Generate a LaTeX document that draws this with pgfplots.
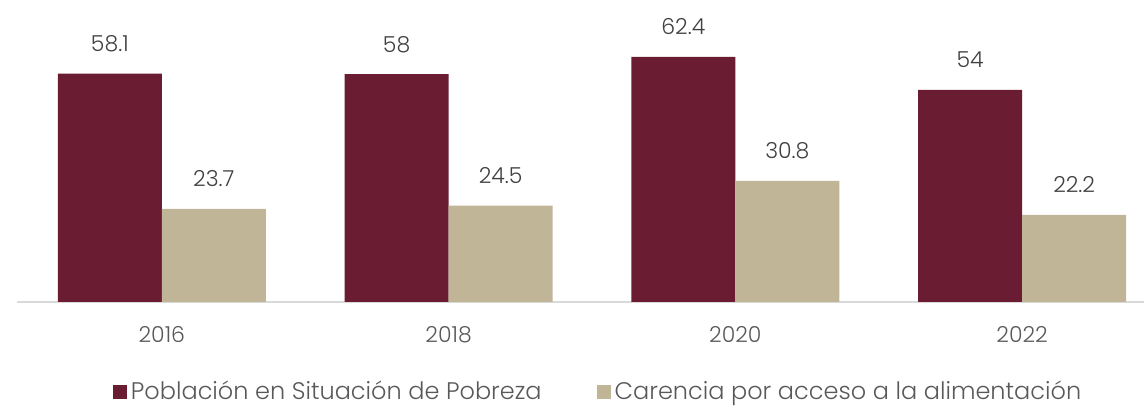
\documentclass[border=0pt]{standalone}
\usepackage{fontspec}
\setmainfont{Poppins Light}
\usepackage{pgfplots}
\pgfplotsset{compat=1.18}
\definecolor{guinda}{HTML}{691C32}
\definecolor{arena}{HTML}{C1B598}
\definecolor{txtgray}{HTML}{595959}
\definecolor{lblgray}{HTML}{404040}
\definecolor{axgray}{HTML}{D9D9D9}
\begin{document}
\begin{tikzpicture}
% 1 px of the reference = 0.5pt
\useasboundingbox (-8.5pt,-52pt) rectangle (563.5pt,151pt);
\begin{axis}[
  at={(0,0)}, anchor=south west,
  scale only axis,
  width=563.5pt, height=150.5pt,
  xmin=-0.505, xmax=3.425,
  ymin=0, ymax=76.6,
  ybar=0pt, bar width=52pt,
  axis x line*=bottom,
  axis y line=none,
  x axis line style={draw=axgray, line width=0.75pt},
  xtick={0,1,2,3},
  xticklabels={2016,2018,2020,2022},
  major tick length=0pt,
  xticklabel style={font=\fontsize{11}{13}\selectfont, text=txtgray, yshift=-8.5pt},
  /pgf/number format/assume math mode=true,
  nodes near coords,
  nodes near coords style={anchor=base, yshift=11pt, inner sep=0pt,
    font=\fontsize{11}{13}\selectfont, text=lblgray},
  legend columns=2,
  legend style={at={(0.5165,-0.299)}, anchor=center, draw=none, fill=none,
    font=\fontsize{12}{14}\selectfont, text=txtgray,
    /tikz/every even column/.append style={column sep=25.5pt}},
  legend image code/.code={\fill[#1] (0pt,-3.5pt) rectangle (7pt,3.5pt);},
  clip=false,
]
\addplot[fill=guinda, draw=none, bar shift=-26pt] coordinates {
  (0,58.1) (1,58) (2,62.4) (3,54)
};
\addlegendentry{Población en Situación de Pobreza}
\addplot[fill=arena, draw=none, bar shift=26pt] coordinates {
  (0,23.7) (1,24.5) (2,30.8) (3,22.2)
};
\addlegendentry{Carencia por acceso a la alimentación}
\end{axis}
\end{tikzpicture}
\end{document}
